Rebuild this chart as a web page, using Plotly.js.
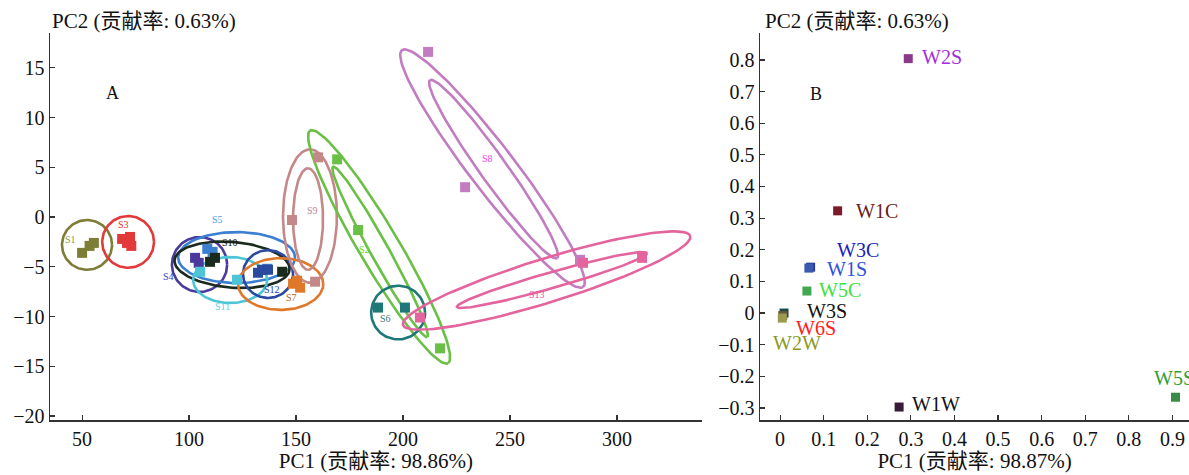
<!DOCTYPE html>
<html>
<head>
<meta charset="utf-8">
<script src="https://cdn.plot.ly/plotly-3.0.1.min.js"></script>
<style>html,body{margin:0;padding:0;background:#fff}#chart{width:1189px;height:475px}</style>
</head>
<body>
<div id="chart"></div>
<script>
// ---------- Panel A data ----------
const groupNames  = ['S1','S2','S3','S4','S5','S6','S7','S8','S9','S10','S11','S12','S13'];
const groupColors = ['#7d7d35','#6abf45','#e23a3a','#4b3a9c','#3a7fd0','#1f7878','#e0782a','#c27cc2','#c48888','#1a2a1c','#4cc6d6','#2a4aa0','#e4649e'];
const labelColors = ['#8a9a40','#60e020','#e03030','#4040c0','#4a9ae0','#407878','#c06020','#f040f0','#c08090','#111111','#60d0e0','#2040c0','#f050a0'];

// sample scores (PC1, PC2) and their group
const scoreGroup = ['S1','S1','S1','S3','S3','S3','S3','S4','S4','S5','S5','S5','S10','S10','S10','S11','S11','S12','S12','S12','S7','S7','S7','S9','S9','S9','S2','S2','S2','S6','S6','S8','S8','S8','S13','S13','S13'];
const scorePC1   = [50,53.5,55.5,68.7,72.4,73,71,102.8,104.5,108.5,111,136.5,109.8,112.1,143.5,105.1,122.4,132.2,134.1,136.9,148.6,150.5,151.9,160.3,148.1,158.9,169.2,179.0,217.3,188.3,200.9,211.7,229.0,282.7,284.1,311.7,207.9];
const scorePC2   = [-3.6,-2.9,-2.6,-2.2,-2.0,-2.9,-2.6,-4.1,-4.6,-3.2,-3.5,-5.2,-4.5,-4.1,-5.5,-5.5,-6.3,-5.6,-5.3,-5.3,-6.7,-6.4,-7.1,6.0,-0.3,-6.5,5.8,-1.3,-13.2,-9.1,-9.1,16.6,3.0,-4.3,-4.6,-4.1,-10.1];

// confidence ellipses: centre, major semi-axis vector (u), minor semi-axis vector (v)
const ellGroup = ['S1','S3','S4','S5','S10','S11','S12','S7','S9','S9','S2','S2','S6','S8','S8','S13','S13'];
const ellCx = [52.3,71.5,104.9,122.2,120.1,119.2,136.9,142.8,156.5,155.6,188.8,189.3,197.7,241.8,242.3,267.1,269.6];
const ellCy = [-2.8,-2.5,-4.77,-4.07,-4.8,-6.33,-5.73,-6.73,0.1,-0.2,-3.0,-3.5,-9.6,4.87,4.82,-6.38,-6.33];
const ellUx = [11.7,12.1,12.9,27.3,26.9,17.3,11.7,19.9,0,0,32.2,22.0,12.6,42.3,29.7,67.1,44.4];
const ellUy = [0,0,0,0,-0.4,0,0,0,6.7,5.1,-11.7,-8.55,0,-11.9,-8.94,4.47,2.71];
const ellVx = [0,0,0,0,0,0,0,0,12.6,7.0,8.0,3.7,0,8.4,5.1,3.04,1.03];
const ellVy = [2.5,2.6,2.76,2.56,2.3,2.31,2.4,2.6,0,0,1.03,0.44,2.7,1.38,0.79,-2.11,-0.77];

// group label positions
const labelText = ['S1','S3','S5','S10','S4','S11','S12','S7','S9','S2','S6','S8','S13'];
const labelPC1  = [44.4,69.2,113.5,119.2,90.2,115.4,138.8,147.7,157.5,182.2,191.6,239.7,262.6];
const labelPC2  = [-2.3,-0.7,-0.2,-2.6,-6.0,-9.0,-7.3,-8.1,0.7,-3.3,-10.2,5.9,-7.8];

// ---------- Panel B data ----------
const wNames  = ['W2S','W1C','W3C','W1S','W5C','W3S','W6S','W2W','W1W','W5S'];
const wPC1    = [0.294,0.132,0.070,0.066,0.0615,0.009,0.006,0.005,0.273,0.907];
const wPC2    = [0.804,0.323,0.145,0.142,0.0696,0.0,-0.008,-0.016,-0.297,-0.266];
const wColors = ['#8a3a8a','#7a1a2a','#2a3a9a','#3a5ab0','#40a850','#1a4a4a','#6a5a3a','#9a9a50','#3a1a3a','#3a8a4a'];
const wLabelColors = ['#a030e0','#6a1a1a','#2020c0','#3050e0','#40e040','#111111','#ff2020','#8a9a20','#111111','#30a030'];
const wLabelPC1 = [0.321,0.170,0.126,0.102,0.084,0.057,0.032,-0.022,0.298,0.852];
const wLabelPC2 = [0.81,0.323,0.199,0.139,0.073,0.006,-0.047,-0.095,-0.288,-0.206];

// ---------- build ----------
const FONT = 'Liberation Serif, Times New Roman, Noto Sans CJK SC, serif';
const traces = [];

function ellipsePath(cx, cy, ux, uy, vx, vy) {
  const xs = [], ys = [];
  for (let i = 0; i <= 120; i++) {
    const t = 2 * Math.PI * i / 120;
    xs.push(cx + ux * Math.cos(t) + vx * Math.sin(t));
    ys.push(cy + uy * Math.cos(t) + vy * Math.sin(t));
  }
  return {xs, ys};
}

ellGroup.forEach((g, i) => {
  const p = ellipsePath(ellCx[i], ellCy[i], ellUx[i], ellUy[i], ellVx[i], ellVy[i]);
  const c = groupColors[groupNames.indexOf(g)];
  traces.push({x: p.xs, y: p.ys, mode: 'lines', type: 'scatter', xaxis: 'x', yaxis: 'y',
    line: {color: c, width: 2.6}, hoverinfo: 'skip', showlegend: false});
});

groupNames.forEach((g, gi) => {
  const xs = [], ys = [];
  scoreGroup.forEach((s, i) => { if (s === g) { xs.push(scorePC1[i]); ys.push(scorePC2[i]); } });
  traces.push({x: xs, y: ys, mode: 'markers', type: 'scatter', xaxis: 'x', yaxis: 'y', name: g,
    marker: {symbol: 'square', size: 10, color: groupColors[gi]}, showlegend: false});
});

traces.push({x: wPC1, y: wPC2, mode: 'markers', type: 'scatter', xaxis: 'x2', yaxis: 'y2',
  marker: {symbol: 'square', size: 9, color: wColors}, showlegend: false});

const annotations = [];
labelText.forEach((t, i) => {
  annotations.push({text: t, x: labelPC1[i], y: labelPC2[i], xref: 'x', yref: 'y', showarrow: false,
    font: {family: FONT, size: 10, color: labelColors[groupNames.indexOf(t)]}});
});
wNames.forEach((t, i) => {
  annotations.push({text: t, x: wLabelPC1[i], y: wLabelPC2[i], xref: 'x2', yref: 'y2', showarrow: false,
    xanchor: 'left', yanchor: 'middle', font: {family: FONT, size: 20, color: wLabelColors[i]}});
});
annotations.push({text: 'A', x: 64, y: 12.5, xref: 'x', yref: 'y', showarrow: false, font: {family: FONT, size: 18, color: '#111'}});
annotations.push({text: 'B', x: 0.082, y: 0.693, xref: 'x2', yref: 'y2', showarrow: false, font: {family: FONT, size: 18, color: '#111'}});
annotations.push({text: 'PC2 (贡献率: 0.63%)', x: 0, y: 1.03, xref: 'paper', yref: 'paper', xanchor: 'left', yanchor: 'middle', showarrow: false, font: {family: FONT, size: 21, color: '#111'}});
annotations.push({text: 'PC2 (贡献率: 0.63%)', x: 0.626, y: 1.03, xref: 'paper', yref: 'paper', xanchor: 'left', yanchor: 'middle', showarrow: false, font: {family: FONT, size: 21, color: '#111'}});

const axBase = {showline: true, linecolor: '#333', linewidth: 1.5, ticks: 'inside', ticklen: 5, tickwidth: 1.2, tickcolor: '#333',
  showgrid: false, zeroline: false, tickfont: {family: FONT, size: 20, color: '#111'}, mirror: false};

const layout = {
  width: 1189, height: 475,
  margin: {l: 50, r: 0, t: 33, b: 55},
  paper_bgcolor: '#fff', plot_bgcolor: '#fff',
  font: {family: FONT},
  xaxis: Object.assign({}, axBase, {domain: [0, 0.5724], range: [35, 339.7], tickvals: [50,100,150,200,250,300],
    title: {text: 'PC1 (贡献率: 98.86%)', font: {family: FONT, size: 21, color: '#111'}, standoff: 2}, anchor: 'y'}),
  yaxis: Object.assign({}, axBase, {domain: [0, 1], range: [-20.4, 18.5], tickvals: [-20,-15,-10,-5,0,5,10,15], anchor: 'x'}),
  xaxis2: Object.assign({}, axBase, {domain: [0.6234, 1], range: [-0.046, 0.938], dtick: 0.1, tick0: 0,
    title: {text: 'PC1 (贡献率: 98.87%)', font: {family: FONT, size: 21, color: '#111'}, standoff: 2}, anchor: 'y2'}),
  yaxis2: Object.assign({}, axBase, {domain: [0, 1], range: [-0.338, 0.885], dtick: 0.1, tick0: 0, anchor: 'x2'}),
  annotations: annotations,
  showlegend: false
};

Plotly.newPlot('chart', traces, layout, {displayModeBar: false, staticPlot: true});
</script>
</body>
</html>
